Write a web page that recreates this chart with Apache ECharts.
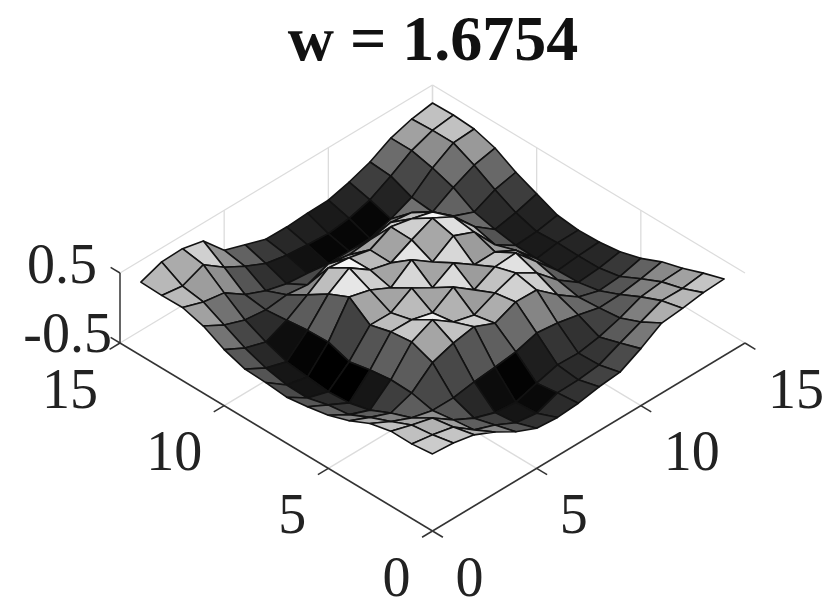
<!DOCTYPE html>
<html><head><meta charset="utf-8">
<style>html,body{margin:0;padding:0;background:#fff}#c{width:830px;height:610px}</style>
<script src="https://cdn.jsdelivr.net/npm/echarts@6/dist/echarts.min.js"></script>
</head><body><div id="c"></div>
<script>
const titleText = 'w = 1.6754';
const planeTicks = [0, 5, 10, 15];
const zTicks = [-0.5, 0.5];
const zRange = [-0.5, 0.5];
const colorRange = [-0.46, 0.39];
// z at each mesh node; first index runs along the left axis, second along the right axis
const row01 = [.243,.22,.157,.02,-.157,-.286,-.31,-.286,-.23,-.2,-.043,.143,.175,.22,.236];
const row02 = [.207,.157,.09,-.13,-.24,-.386,-.43,-.317,-.31,-.276,-.143,-.02,.105,.10,.14];
const row03 = [.21,.12,.04,-.166,-.32,-.42,-.45,-.357,-.276,-.286,-.234,-.143,-.02,.015,.03];
const row04 = [.14,-.01,-.137,-.21,-.21,-.16,-.13,-.09,0,-.034,-.1,-.177,-.165,-.12,-.057];
const row05 = [0,-.13,-.246,-.14,.114,.214,.27,.14,.266,.257,.009,-.2,-.29,-.265,-.186];
const row06 = [-.1,-.27,-.385,-.13,.23,.37,.157,.08,.214,.32,.143,-.136,-.35,-.325,-.27];
const row07 = [-.157,-.31,-.46,-.17,.196,.19,.11,.3,.08,.23,.25,-.057,-.36,-.33,-.31];
const row08 = [-.2,-.39,-.48,-.23,.114,.11,.286,.11,.286,.08,.086,-.07,-.37,-.323,-.32];
const row09 = [-.17,-.383,-.447,-.13,.337,.257,.11,.33,.12,.314,.19,-.17,-.36,-.34,-.286];
const row10 = [-.157,-.32,-.41,-.14,.2,.394,.186,.107,.257,.39,.23,-.09,-.31,-.25,-.16];
const row11 = [-.057,-.214,-.306,-.175,.009,.214,.18,.114,.264,.2,.12,-.12,-.24,-.10,-.03];
const row12 = [.1,-.063,-.17,-.206,-.17,-.207,-.086,-.136,-.1,-.03,-.07,-.24,-.07,.07,.137];
const row13 = [.186,.086,.037,-.165,-.29,-.37,-.40,-.44,-.44,-.44,-.34,-.21,.03,.21,.23];
const row14 = [.18,.135,.26,.045,-.12,-.26,-.32,-.35,-.37,-.33,-.245,-.085,.10,.21,.25];
const row15 = [.19,.30,.31,.24,-.07,-.17,-.27,-.276,-.257,-.25,-.17,-.063,.10,.193,.243];
const rows = [row01,row02,row03,row04,row05,row06,row07,row08,row09,row10,row11,row12,row13,row14,row15];

// orthographic view of the 3-D box onto the two hidden cartesian axes
const zScale = 5.587;
const proj = (a, b, z) => [b - a, a + b + (z - zRange[0]) * zScale];
const grayOf = z => {
  const t = Math.max(0, Math.min(1, (z - colorRange[0]) / (colorRange[1] - colorRange[0])));
  const g = Math.round(t * 245);
  return `rgb(${g},${g},${g})`;
};

// mesh faces, far to near so nearer faces paint over farther ones
const cells = [];
for (let p = 0; p < rows.length - 1; p++)
  for (let q = 0; q < rows[p].length - 1; q++) cells.push([p, q]);
cells.sort((u, v) => (v[0] + v[1]) - (u[0] + u[1]));

const zLo = zRange[0], zHi = zRange[1], tMax = planeTicks[planeTicks.length - 1];
const wallSegs = [];
planeTicks.forEach(t => {
  if (t > 0) {
    wallSegs.push([t, 0, zLo, t, tMax, zLo]);
    wallSegs.push([0, t, zLo, tMax, t, zLo]);
    wallSegs.push([tMax, t, zLo, tMax, t, zHi]);
    wallSegs.push([t, tMax, zLo, t, tMax, zHi]);
  }
});
wallSegs.push([tMax, 0, zHi, tMax, tMax, zHi]);
wallSegs.push([0, tMax, zHi, tMax, tMax, zHi]);

const axisSegs = [
  [0, 0, zLo, tMax, 0, zLo],
  [0, 0, zLo, 0, tMax, zLo],
  [tMax, 0, zLo, tMax, 0, zHi]
];
planeTicks.forEach(t => {
  axisSegs.push([t, 0, zLo, t, -0.5, zLo]);
  axisSegs.push([0, t, zLo, -0.5, t, zLo]);
});
zTicks.forEach(z => axisSegs.push([tMax, 0, z, tMax + 0.45, 0, z]));

const segSeries = (segs, color, width) => ({
  type: 'custom', coordinateSystem: 'cartesian2d', clip: false, silent: true,
  data: segs.map((s, i) => [i]),
  renderItem(params, api) {
    const s = segs[api.value(0)];
    const a = api.coord(proj(s[0], s[1], s[2])), b = api.coord(proj(s[3], s[4], s[5]));
    return { type: 'line', shape: { x1: a[0], y1: a[1], x2: b[0], y2: b[1] },
      style: { stroke: color, lineWidth: width, fill: null } };
  }
});

const font = '56px "Liberation Serif","Times New Roman",serif';
const labels = [];
planeTicks.forEach(t => {
  labels.push({ text: String(t), at: [t, 0, zLo], dx: -22, dy: 50, align: 'right' });
  labels.push({ text: String(t), at: [0, t, zLo], dx: 23, dy: 50, align: 'left' });
});
labels.push({ text: '0.5', at: [tMax, 0, zHi], dx: -23, dy: -5, align: 'right' });
labels.push({ text: '-0.5', at: [tMax, 0, zLo], dx: -8, dy: -6, align: 'right' });

const chart = echarts.init(document.getElementById('c'), null, { renderer: 'canvas' });
chart.setOption({
  animation: false,
  backgroundColor: '#fff',
  title: { text: titleText, left: 428, top: 6, textAlign: 'center',
    textStyle: { fontFamily: '"Liberation Serif","Times New Roman",serif', fontWeight: 'bold', fontSize: 64, color: '#111' } },
  grid: { left: 120, width: 625, top: 85, bottom: 79 },
  xAxis: { type: 'value', min: -15, max: 15, show: false },
  yAxis: { type: 'value', min: 0, max: 30 + zScale, show: false },
  series: [
    segSeries(wallSegs, '#dcdcdc', 1.3),
    {
      type: 'custom', coordinateSystem: 'cartesian2d', clip: false, silent: true,
      data: cells,
      renderItem(params, api) {
        const p = api.value(0), q = api.value(1);
        const node = (i, j) => api.coord(proj(i + 1, j + 1, rows[i][j]));
        return { type: 'polygon',
          shape: { points: [node(p, q), node(p + 1, q), node(p + 1, q + 1), node(p, q + 1)] },
          style: { fill: grayOf(rows[p][q]), stroke: '#121212', lineWidth: 1.6, lineJoin: 'round' } };
      }
    },
    segSeries(axisSegs, '#333333', 1.5),
    {
      type: 'custom', coordinateSystem: 'cartesian2d', clip: false, silent: true,
      data: labels.map((l, i) => [i]),
      renderItem(params, api) {
        const l = labels[api.value(0)];
        const c = api.coord(proj(l.at[0], l.at[1], l.at[2]));
        return { type: 'text', style: { text: l.text, x: c[0] + l.dx, y: c[1] + l.dy,
          font, fill: '#222', align: l.align, verticalAlign: 'middle' } };
      }
    }
  ]
});
</script></body></html>
